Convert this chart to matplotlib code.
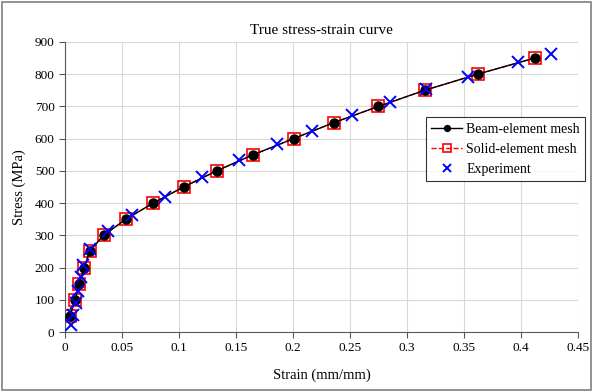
import matplotlib
matplotlib.use("Agg")
import matplotlib.pyplot as plt
from matplotlib.patches import Rectangle

# stress levels shared by both FE meshes (MPa)
stress_fe = [50, 100, 150, 200, 250, 300, 350, 400, 450, 500, 550, 600,
             650, 700, 750, 800, 850]
strain_beam = [0.0044, 0.0088, 0.0126, 0.017, 0.0215, 0.0338, 0.0535, 0.0773,
               0.104, 0.133, 0.165, 0.2005, 0.236, 0.275, 0.3155, 0.362, 0.412]
strain_solid = strain_beam

strain_exp = [0.005, 0.0068, 0.0097, 0.0117, 0.0138, 0.016, 0.022, 0.038,
              0.059, 0.088, 0.12, 0.153, 0.186, 0.2163, 0.252, 0.2855,
              0.3168, 0.3536, 0.3977, 0.426]
stress_exp = [22, 54, 90, 126, 170, 208, 257, 314, 363, 420, 480, 533, 582,
              625, 672, 715, 755, 791, 838, 863]

plt.rcParams["font.family"] = ["Liberation Serif", "DejaVu Serif"]

fig = plt.figure(figsize=(5.93, 3.92), dpi=100)
ax = fig.add_axes([0.1096, 0.153, 0.8651, 0.740])

ax.plot(strain_beam, stress_fe, "-o", color="black", lw=1.0, ms=6.5,
        label="Beam-element mesh", zorder=3)
ax.plot(strain_solid, stress_fe, "--s", color="red", lw=1.0, ms=9,
        mfc="none", mew=1.2, label="Solid-element mesh", zorder=2)
ax.plot(strain_exp, stress_exp, "x", color="blue", ms=8, mew=1.4,
        label="Experiment", zorder=4)

ax.set_xlim(0, 0.45)
ax.set_ylim(0, 900)
ax.set_xticks([0, 0.05, 0.1, 0.15, 0.2, 0.25, 0.3, 0.35, 0.4, 0.45])
ax.set_xticklabels(["0", "0.05", "0.1", "0.15", "0.2", "0.25", "0.3",
                    "0.35", "0.4", "0.45"])
ax.set_yticks(range(0, 901, 100))
ax.grid(True, color="#d9d9d9", lw=0.8)
ax.set_axisbelow(True)
for s in ("top", "right"):
    ax.spines[s].set_visible(False)
for s in ("left", "bottom"):
    ax.spines[s].set_color("#595959")
ax.tick_params(labelsize=9.5, length=4, color="#595959", direction="out")

ax.set_title("True stress-strain curve", fontsize=11)
ax.set_xlabel("Strain (mm/mm)", fontsize=10.5, labelpad=10)
ax.set_ylabel("Stress (MPa)", fontsize=10.5, labelpad=6)

leg = ax.legend(loc="upper left", bbox_to_anchor=(0.69, 0.765), fontsize=10,
                frameon=True, fancybox=False, edgecolor="black",
                handlelength=2.2, borderpad=0.4, labelspacing=0.5,
                handletextpad=0.3, markerscale=0.65)
leg.get_frame().set_linewidth(0.8)

# outer chart border
fig.patches.append(Rectangle((0.004, 0.004), 0.992, 0.992,
                             transform=fig.transFigure, fill=False,
                             edgecolor="#7f7f7f", lw=1.2))

fig.savefig("out.png", dpi=100)
